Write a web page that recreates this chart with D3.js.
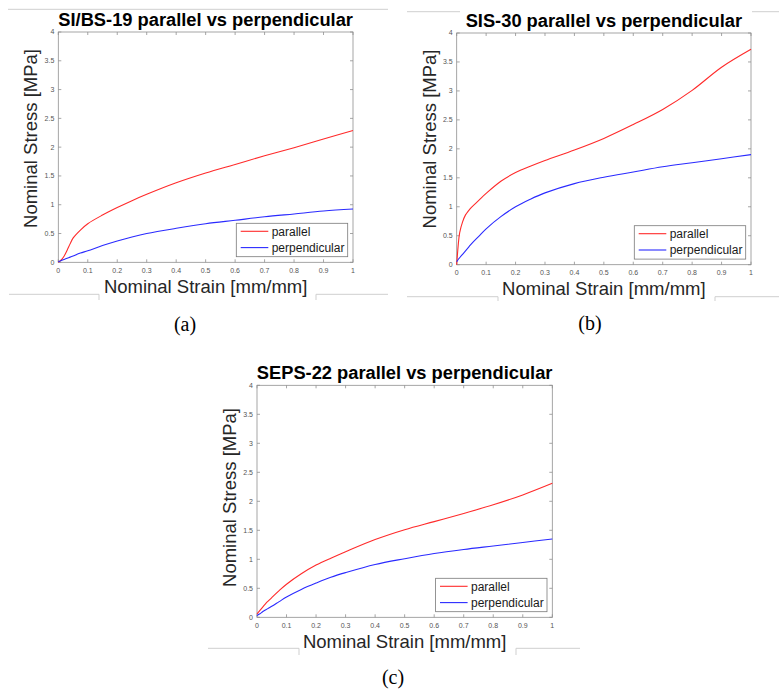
<!DOCTYPE html>
<html>
<head>
<meta charset="utf-8">
<script src="https://cdn.jsdelivr.net/npm/d3@7"></script>
<style>
  body { margin: 0; background: #fff; }
  svg { display: block; }
</style>
</head>
<body>
<div id="chart"></div>
<script>
// shared strain grid [mm/mm]
const strain = [0, 0.005, 0.01, 0.02, 0.03, 0.04, 0.05, 0.075, 0.1, 0.15, 0.2, 0.25, 0.3, 0.4, 0.5, 0.6, 0.7, 0.8, 0.9, 1];

// stress [MPa]
const sibsParallel = [0, 0.02, 0.04, 0.11, 0.21, 0.32, 0.42, 0.56, 0.67, 0.82, 0.95, 1.07, 1.18, 1.38, 1.55, 1.70, 1.85, 1.99, 2.14, 2.29];
const sibsPerpendicular = [0.01, 0.02, 0.03, 0.05, 0.07, 0.09, 0.11, 0.16, 0.20, 0.29, 0.37, 0.44, 0.50, 0.59, 0.67, 0.73, 0.79, 0.84, 0.89, 0.925];

const sisParallel = [0, 0.33, 0.55, 0.74, 0.86, 0.93, 0.99, 1.11, 1.23, 1.44, 1.59, 1.70, 1.80, 1.98, 2.18, 2.42, 2.68, 3.01, 3.41, 3.72];
const sisPerpendicular = [0.05, 0.09, 0.12, 0.18, 0.24, 0.30, 0.36, 0.49, 0.62, 0.83, 1.0, 1.13, 1.24, 1.40, 1.51, 1.60, 1.69, 1.76, 1.83, 1.90];

const sepsParallel = [0.06, 0.09, 0.12, 0.18, 0.24, 0.29, 0.34, 0.46, 0.57, 0.75, 0.90, 1.02, 1.13, 1.34, 1.51, 1.65, 1.79, 1.94, 2.11, 2.31];
const sepsPerpendicular = [0.03, 0.05, 0.06, 0.10, 0.13, 0.16, 0.19, 0.27, 0.35, 0.48, 0.59, 0.69, 0.77, 0.91, 1.01, 1.10, 1.17, 1.23, 1.29, 1.35];

const xTicks = [0, 0.1, 0.2, 0.3, 0.4, 0.5, 0.6, 0.7, 0.8, 0.9, 1];
const xTickLabels = ["0", "0.1", "0.2", "0.3", "0.4", "0.5", "0.6", "0.7", "0.8", "0.9", "1"];
const yTicks = [0, 0.5, 1, 1.5, 2, 2.5, 3, 3.5, 4];
const yTickLabels = ["0", "0.5", "1", "1.5", "2", "2.5", "3", "3.5", "4"];

const seriesNames = ["parallel", "perpendicular"];
const seriesColors = ["#ff2a2a", "#2a2aff"];

const W = 779, H = 690;
const SANS = "'Liberation Sans', Arial, Helvetica, sans-serif";

const svg = d3.select("#chart").append("svg")
  .attr("width", W).attr("height", H);
svg.append("rect").attr("width", W).attr("height", H).attr("fill", "#fff");

const panels = [
  {
    title: "SI/BS-19 parallel vs perpendicular",
    left: 58.3, right: 353, top: 32, bottom: 262.3,
    yLabelCenter: 138.5, caption: "(a)", capX: 185, capY: 331,
    values: [sibsParallel, sibsPerpendicular]
  },
  {
    title: "SIS-30 parallel vs perpendicular",
    left: 456.7, right: 751, top: 33, bottom: 264.7,
    yLabelCenter: 139, caption: "(b)", capX: 590, capY: 330,
    values: [sisParallel, sisPerpendicular]
  },
  {
    title: "SEPS-22 parallel vs perpendicular",
    left: 257, right: 552.3, top: 385.3, bottom: 617.3,
    yLabelCenter: 497.5, caption: "(c)", capX: 393, capY: 684,
    values: [sepsParallel, sepsPerpendicular]
  }
];

// faint frame pieces left over from the source screenshots
const frameBits = [
  [[8, 9.3], [388, 9.3]],
  [[9, 294.3], [99, 294.3], [99, 300]],
  [[316, 300], [316, 294.3], [388, 294.3]],
  [[407, 11.7], [460, 11.7]],
  [[752, 11.7], [779, 11.7]],
  [[407, 296.7], [498, 296.7], [498, 301]],
  [[715, 301], [715, 296.7], [779, 296.7]],
  [[208, 648.3], [299, 648.3], [299, 655]],
  [[516, 655], [516, 648.3], [580, 648.3]]
];
svg.selectAll(".frame")
  .data(frameBits)
  .join("path")
  .attr("class", "frame")
  .attr("d", d3.line())
  .attr("fill", "none")
  .attr("stroke", "#cfcfcf")
  .attr("stroke-width", 1);

function drawPanel(p) {
  const x = d3.scaleLinear().domain([0, 1]).range([p.left, p.right]);
  const y = d3.scaleLinear().domain([0, 4]).range([p.bottom, p.top]);
  const g = svg.append("g");
  const tickLen = 3;
  const axisColor = "#8f8f8f";

  // box
  g.append("rect")
    .attr("x", p.left).attr("y", p.top)
    .attr("width", p.right - p.left).attr("height", p.bottom - p.top)
    .attr("fill", "none").attr("stroke", axisColor).attr("stroke-width", 0.8);

  // inward ticks on all four sides
  const tickPaths = [];
  xTicks.forEach(t => {
    tickPaths.push([[x(t), p.bottom], [x(t), p.bottom - tickLen]]);
    tickPaths.push([[x(t), p.top], [x(t), p.top + tickLen]]);
  });
  yTicks.forEach(t => {
    tickPaths.push([[p.left, y(t)], [p.left + tickLen, y(t)]]);
    tickPaths.push([[p.right, y(t)], [p.right - tickLen, y(t)]]);
  });
  g.selectAll(".tick")
    .data(tickPaths)
    .join("path")
    .attr("d", d3.line())
    .attr("stroke", axisColor)
    .attr("stroke-width", 0.8);

  g.selectAll(".xtl")
    .data(xTicks)
    .join("text")
    .attr("x", d => x(d))
    .attr("y", p.bottom + 8)
    .attr("dy", "0.35em")
    .attr("text-anchor", "middle")
    .style("font-family", SANS)
    .style("font-size", "7px")
    .style("fill", "#555")
    .text((d, i) => xTickLabels[i]);

  g.selectAll(".ytl")
    .data(yTicks)
    .join("text")
    .attr("x", p.left - 4)
    .attr("y", d => y(d))
    .attr("dy", "0.35em")
    .attr("text-anchor", "end")
    .style("font-family", SANS)
    .style("font-size", "7px")
    .style("fill", "#555")
    .text((d, i) => yTickLabels[i]);

  // curves
  const line = d3.line()
    .x((d, i) => x(strain[i]))
    .y(d => y(d))
    .curve(d3.curveCatmullRom.alpha(0.5));
  g.selectAll(".curve")
    .data(p.values)
    .join("path")
    .attr("d", line)
    .attr("fill", "none")
    .attr("stroke", (d, i) => seriesColors[i])
    .attr("stroke-width", 1.1);

  // title
  g.append("text")
    .attr("x", (p.left + p.right) / 2)
    .attr("y", p.top - 6.5)
    .attr("text-anchor", "middle")
    .style("font-family", SANS)
    .style("font-weight", "bold")
    .style("font-size", "18.3px")
    .style("fill", "#000")
    .text(p.title);

  // axis labels
  g.append("text")
    .attr("x", (p.left + p.right) / 2)
    .attr("y", p.bottom + 30.5)
    .attr("text-anchor", "middle")
    .style("font-family", SANS)
    .style("font-size", "18.5px")
    .style("fill", "#262626")
    .text("Nominal Strain [mm/mm]");

  g.append("text")
    .attr("transform", `translate(${p.left - 21},${p.yLabelCenter}) rotate(-90)`)
    .attr("text-anchor", "middle")
    .style("font-family", SANS)
    .style("font-size", "18.5px")
    .style("fill", "#262626")
    .text("Nominal Stress [MPa]");

  // legend
  const lw = 111.4, lh = 33.4;
  const lx = p.right - 5.3 - lw, ly = p.bottom - 5.6 - lh;
  g.append("rect")
    .attr("x", lx).attr("y", ly)
    .attr("width", lw).attr("height", lh)
    .attr("fill", "#fff")
    .attr("stroke", "#7a7a7a")
    .attr("stroke-width", 0.8);
  const rows = g.selectAll(".leg")
    .data(seriesNames)
    .join("g")
    .attr("transform", (d, i) => `translate(${lx},${ly + 8 + i * 16.3})`);
  rows.append("line")
    .attr("x1", 4.4).attr("x2", 32)
    .attr("stroke", (d, i) => seriesColors[i])
    .attr("stroke-width", 1.1);
  rows.append("text")
    .attr("x", 35.4)
    .attr("dy", "0.35em")
    .style("font-family", SANS)
    .style("font-size", "12px")
    .style("fill", "#1a1a1a")
    .text(d => d);

  // sub-figure caption
  svg.append("text")
    .attr("x", p.capX)
    .attr("y", p.capY)
    .attr("text-anchor", "middle")
    .style("font-family", "'Liberation Serif', 'Times New Roman', serif")
    .style("font-size", "20px")
    .style("fill", "#000")
    .text(p.caption);
}

panels.forEach(drawPanel);
</script>
</body>
</html>
